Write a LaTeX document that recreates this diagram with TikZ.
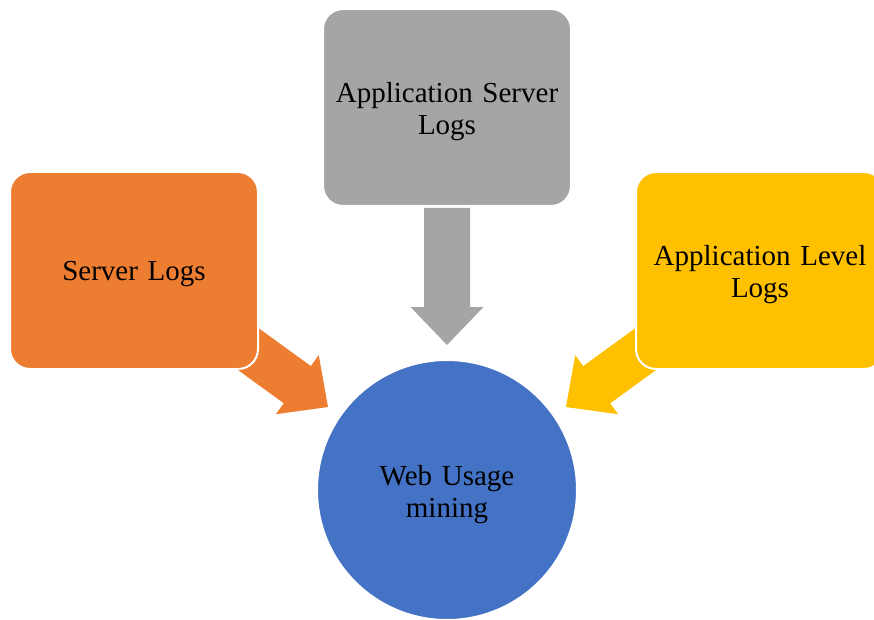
\documentclass[tikz,border=0pt]{standalone}
\usepackage{fontspec}
\setmainfont{Liberation Serif}
\definecolor{offorange}{HTML}{ED7D31}
\definecolor{offgray}{HTML}{A5A5A5}
\definecolor{offyellow}{HTML}{FFC000}
\definecolor{offblue}{HTML}{4472C4}
\tikzset{
  logbox/.style={rectangle, rounded corners=20pt, draw=white, line width=2pt,
    minimum width=248pt, minimum height=197pt, text width=235pt, align=center,
    font=\fontsize{29}{32}\selectfont, inner sep=0pt},
  hub/.style={circle, fill=offblue, draw=white, line width=2pt, minimum size=260pt,
    text width=200pt, align=center, font=\fontsize{29}{32}\selectfont, inner sep=0pt},
  oneline/.style={text depth=0pt},
  twoline/.style={text depth=30pt},
  blockarrow/.pic={
    \fill[pic actions] (0,-23) -- (99,-23) -- (99,-36.5) -- (137,0) -- (99,36.5) -- (99,23) -- (0,23) -- cycle;
  }
}
\begin{document}
\begin{tikzpicture}[x=1pt,y=-1pt]
\useasboundingbox (0,0) rectangle (874,620);
\clip (0,0) rectangle (874,620);
% arrows (under boxes)
\coordinate (oa) at (217.2,326.5);
\coordinate (ga) at (447,208);
\coordinate (ya) at (676.8,326.5);
\pic[fill=offorange, rotate=-36] at (oa) {blockarrow};
\pic[fill=offgray, rotate=-90] at (ga) {blockarrow};
\pic[fill=offyellow, rotate=-144] at (ya) {blockarrow};
% boxes
\node[logbox, oneline, fill=offorange] (sl) at (134,270.5) {Server Logs};
\node[logbox, twoline, fill=offgray] (asl) at (447,107.5) {Application Server\\Logs};
\node[logbox, twoline, fill=offyellow] (all) at (760,270.5) {Application Level\\Logs};
\node[hub, twoline] (wum) at (447,490) {Web Usage\\mining};
\end{tikzpicture}
\end{document}
